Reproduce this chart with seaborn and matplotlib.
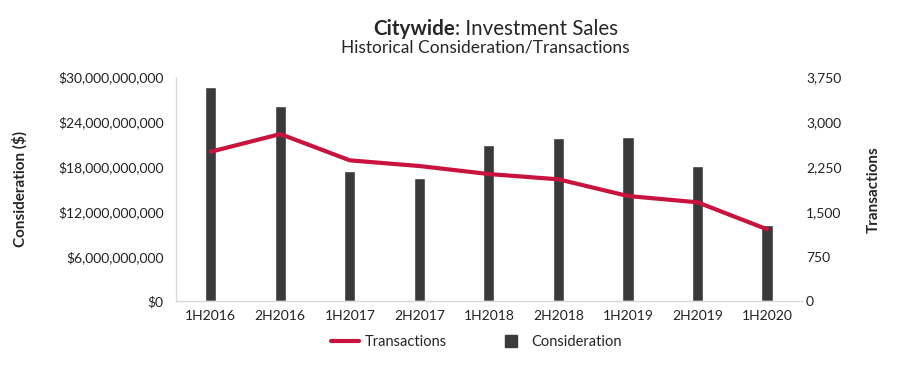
import numpy as np
import pandas as pd
import seaborn as sns
import matplotlib.pyplot as plt
from matplotlib.lines import Line2D
from matplotlib.ticker import FuncFormatter, FixedLocator

periods = ['1H2016', '2H2016', '1H2017', '2H2017', '1H2018', '2H2018', '1H2019', '2H2019', '1H2020']
consideration = [28.62e9, 26.12e9, 17.40e9, 16.50e9, 20.95e9, 21.85e9, 22.02e9, 18.11e9, 10.22e9]
transactions = [2502, 2797, 2358, 2263, 2129, 2041, 1762, 1657, 1206]

left_ticks = [0, 6e9, 12e9, 18e9, 24e9, 30e9]
right_ticks = [0, 750, 1500, 2250, 3000, 3750]

bar_color = '#3a3a3a'
line_color = '#c8133f'

sns.set_style('white')
plt.rcParams['font.family'] = ['Lato', 'DejaVu Sans']

df = pd.DataFrame({'period': periods, 'consideration': consideration,
                   'transactions': transactions})
df['pos'] = np.arange(len(df))

fig = plt.figure(figsize=(9.07, 3.65), dpi=100)
ax = fig.add_axes([0.194, 0.174, 0.690, 0.615])

sns.barplot(data=df, x='period', y='consideration', color=bar_color,
            width=0.16, saturation=1, ax=ax)
ax.set_xlim(-0.5, len(periods) - 0.5)
ax.set_ylim(0, 30e9)
ax.yaxis.set_major_locator(FixedLocator(left_ticks))
ax.yaxis.set_major_formatter(FuncFormatter(lambda v, p: '${:,.0f}'.format(v)))
ax.set_xlabel('')
ax.set_ylabel('Consideration ($)', fontsize=11, fontweight='bold', labelpad=22)
ax.tick_params(axis='y', labelsize=10, length=0, colors='#222222', pad=9)
ax.tick_params(axis='x', labelsize=10, length=0, colors='#222222', pad=6)
for s in ['top', 'right']:
    ax.spines[s].set_visible(False)
for s in ['left', 'bottom']:
    ax.spines[s].set_color('#d9d9d9')
    ax.spines[s].set_linewidth(1)

ax2 = ax.twinx()
sns.lineplot(data=df, x='pos', y='transactions', color=line_color,
             linewidth=3, ax=ax2)
ax2.set_ylim(0, 3750)
ax2.yaxis.set_major_locator(FixedLocator(right_ticks))
ax2.yaxis.set_major_formatter(FuncFormatter(lambda v, p: '{:,.0f}'.format(v)))
ax2.set_ylabel('Transactions', fontsize=11, fontweight='bold', labelpad=18)
ax2.tick_params(axis='y', labelsize=10, length=0, colors='#222222', pad=3)
for s in ['top', 'right', 'left', 'bottom']:
    ax2.spines[s].set_visible(False)

fig.text(0.5017, 0.905, 'Citywide', ha='right', va='baseline',
         fontsize=14.8, fontweight='bold')
fig.text(0.5017, 0.905, ': Investment Sales', ha='left', va='baseline',
         fontsize=14.8)
fig.text(0.535, 0.855, 'Historical Consideration/Transactions', ha='center',
         va='baseline', fontsize=12.5)

handles = [Line2D([0], [0], color=line_color, linewidth=3),
           Line2D([0], [0], linestyle='none', marker='s', markersize=8,
                  markerfacecolor=bar_color, markeredgecolor=bar_color)]
fig.legend(handles, ['Transactions', 'Consideration'], loc='center',
           bbox_to_anchor=(0.525, 0.062), ncol=2, frameon=False,
           fontsize=10.5, columnspacing=3.5, handlelength=1.9,
           handletextpad=0.4)

fig.savefig('out.png', dpi=100)
